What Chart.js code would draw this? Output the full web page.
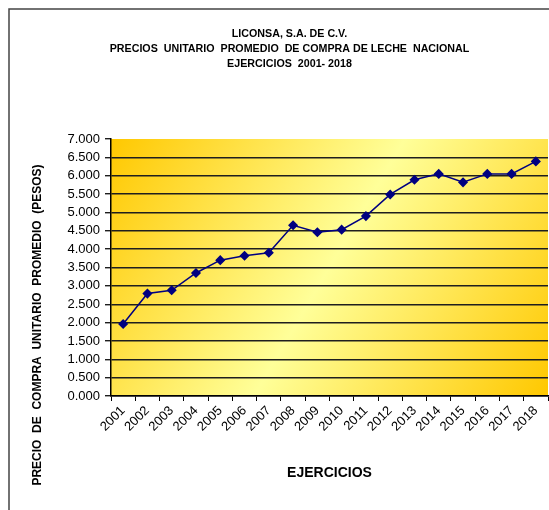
<!DOCTYPE html>
<html>
<head>
<meta charset="utf-8">
<script src="https://cdn.jsdelivr.net/npm/chart.js@4/dist/chart.umd.min.js"></script>
<style>
  html, body { margin: 0; padding: 0; background: #ffffff; }
  #wrap { position: relative; width: 549px; height: 510px; }
  canvas { display: block; }
</style>
</head>
<body>
<div id="wrap"><canvas id="c" width="549" height="510"></canvas></div>
<script>
const years = ['2001','2002','2003','2004','2005','2006','2007','2008','2009','2010','2011','2012','2013','2014','2015','2016','2017','2018'];
const prices = [1.96, 2.79, 2.88, 3.35, 3.70, 3.82, 3.90, 4.65, 4.46, 4.53, 4.90, 5.49, 5.89, 6.05, 5.82, 6.05, 6.05, 6.39];
const titleLines = ['LICONSA, S.A. DE C.V.', 'PRECIOS  UNITARIO  PROMEDIO  DE COMPRA DE LECHE  NACIONAL', 'EJERCICIOS  2001- 2018'];
const yTitle = 'PRECIO  DE  COMPRA  UNITARIO  PROMEDIO  (PESOS)';
const xTitle = 'EJERCICIOS';

const FONT = "Arial, 'Liberation Sans', sans-serif";

const bgPlugin = {
  id: 'bgPlugin',
  beforeDraw(chart) {
    const {ctx, chartArea: a} = chart;
    ctx.save();
    const g = ctx.createLinearGradient(a.left, a.top, a.right, a.bottom);
    g.addColorStop(0, '#FFC800');
    g.addColorStop(0.5, '#FFFF99');
    g.addColorStop(1, '#FFC800');
    ctx.fillStyle = g;
    ctx.fillRect(a.left, a.top, a.right - a.left, a.bottom - a.top);
    ctx.restore();
  },
  afterDraw(chart) {
    const {ctx} = chart;
    ctx.save();
    ctx.strokeStyle = '#444';
    ctx.lineWidth = 1.5;
    ctx.beginPath();
    ctx.moveTo(9, 510);
    ctx.lineTo(9, 9);
    ctx.lineTo(549, 9);
    ctx.stroke();
    ctx.translate(38, 325);
    ctx.rotate(-Math.PI / 2);
    ctx.fillStyle = '#000';
    ctx.font = 'bold 12px ' + FONT;
    ctx.textAlign = 'center';
    ctx.textBaseline = 'middle';
    ctx.fillText(yTitle, 0, 0);
    ctx.restore();
  }
};

new Chart(document.getElementById('c'), {
  type: 'line',
  data: {
    labels: years,
    datasets: [{
      data: prices,
      borderColor: '#000080',
      backgroundColor: '#000080',
      borderWidth: 1.5,
      pointStyle: 'rectRot',
      pointRadius: 4,
      pointHoverRadius: 4,
      pointBackgroundColor: '#000080',
      pointBorderColor: '#000080',
      tension: 0,
      fill: false,
      clip: false
    }]
  },
  options: {
    responsive: false,
    animation: false,
    devicePixelRatio: 1,
    layout: { autoPadding: false, padding: { left: 31, right: 1, top: 0, bottom: 0 } },
    plugins: {
      legend: { display: false },
      tooltip: { enabled: false },
      title: {
        display: true,
        text: titleLines,
        color: '#000',
        font: { family: FONT, size: 10.7, weight: 'bold', lineHeight: '15px' },
        padding: { top: 27, bottom: 67 }
      }
    },
    scales: {
      x: {
        offset: true,
        grid: {
          offset: true,
          drawOnChartArea: false,
          tickLength: 5,
          color: '#000',
          tickColor: '#000',
          lineWidth: 1
        },
        border: { color: '#000', width: 1.5 },
        ticks: {
          color: '#000',
          font: { family: FONT, size: 13 },
          minRotation: 45,
          maxRotation: 45,
          autoSkip: false,
          padding: 2
        },
        title: {
          display: true,
          text: xTitle,
          color: '#000',
          font: { family: FONT, size: 14, weight: 'bold', lineHeight: '16px' },
          padding: { top: 0, bottom: 29 }
        },
        afterFit(scale) { scale.height = 114; scale.paddingLeft = 0; scale.paddingRight = 0; }
      },
      y: {
        min: 0,
        max: 7,
        grid: {
          color: (c) => (c.tick && c.tick.value === 7) ? 'rgba(0,0,0,0)' : '#1e1e1e',
          tickColor: '#1e1e1e',
          lineWidth: 1.4,
          tickLength: 6
        },
        border: { color: '#000', width: 1.5 },
        ticks: {
          stepSize: 0.5,
          autoSkip: false,
          color: '#000',
          font: { family: FONT, size: 13 },
          padding: 5,
          callback: (v) => Number(v).toFixed(3)
        },
        afterFit(scale) { scale.width = 80; }
      }
    }
  },
  plugins: [bgPlugin]
});
</script>
</body>
</html>
